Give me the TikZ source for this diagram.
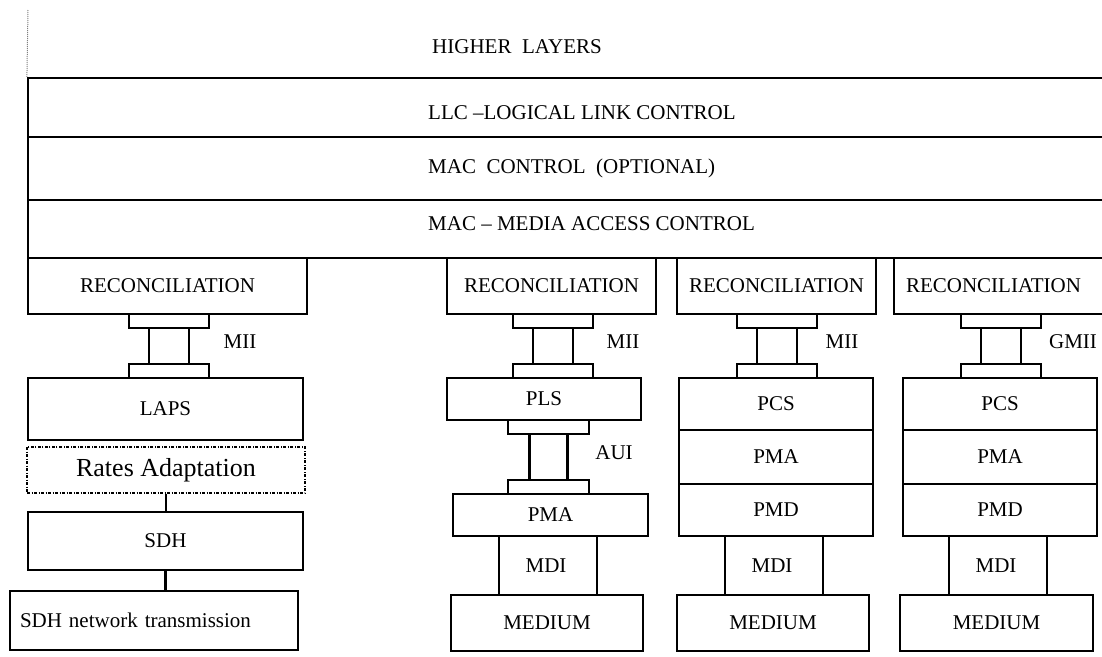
\documentclass[tikz,border=0pt]{standalone}
\usepackage{fontspec}
\setmainfont{Liberation Serif}

\begin{document}
\begin{tikzpicture}[x = 1pt, y = -1pt,
	every node/.style = {font = \fontsize{21}{25}\selectfont},
	layerbox/.style = {draw, line width = 2.2pt, inner sep = 0pt},
	plugbox/.style = {draw, line width = 2.2pt, inner sep = 0pt, minimum width = 80pt, minimum height = 14pt},
	wire/.style = {line width = 2.2pt}]

\clip (0, 0) rectangle (1102, 656);

	% Layers

	\coordinate (top) at (28, 10);
	\node [layerbox, minimum width = 1092pt, minimum height = 59pt] (llc) at (574, 107.5) {};
	\node [layerbox, minimum width = 1092pt, minimum height = 63pt] (macctl) at (574, 168.5) {};
	\node [layerbox, minimum width = 1092pt, minimum height = 58pt] (mac) at (574, 229) {};
	\draw [densely dotted, gray, line width = 1pt] (top) -- (llc.north west);

	\node [anchor = base west, inner sep = 0pt] (higher) at (432, 53) {HIGHER\ \ LAYERS};
	\node [anchor = base west, inner sep = 0pt] (llctext) at (428, 119) {LLC --LOGICAL LINK CONTROL};
	\node [anchor = base west, inner sep = 0pt] (macctltext) at (428, 173) {MAC\ \ CONTROL\ \ (OPTIONAL)};
	\node [anchor = base west, inner sep = 0pt] (mactext) at (428, 230) {MAC -- MEDIA ACCESS CONTROL};

	% Reconciliation

	\node [layerbox, minimum width = 279pt, minimum height = 56pt] (rec1) at (167.5, 286) {RECONCILIATION};
	\node [layerbox, minimum width = 209pt, minimum height = 56pt] (rec2) at (551.5, 286) {RECONCILIATION};
	\node [layerbox, minimum width = 199pt, minimum height = 56pt] (rec3) at (776.5, 286) {RECONCILIATION};
	\node [layerbox, minimum width = 226pt, minimum height = 56pt] (rec4) at (1007, 286) {};
	\node (rec4text) at (993.5, 286) {RECONCILIATION};

	% Interfaces

	\node [plugbox] (mii1top) at (169, 321) {};
	\node [plugbox] (mii1bot) at (169, 371) {};
	\draw [wire] ([xshift = -20pt] mii1top.south) -- ([xshift = -20pt] mii1bot.north);
	\draw [wire] ([xshift = 20pt] mii1top.south) -- ([xshift = 20pt] mii1bot.north);
	\node (mii1) at (240, 342) {MII};

	\node [plugbox] (mii2top) at (553, 321) {};
	\node [plugbox] (mii2bot) at (553, 371) {};
	\draw [wire] ([xshift = -20pt] mii2top.south) -- ([xshift = -20pt] mii2bot.north);
	\draw [wire] ([xshift = 20pt] mii2top.south) -- ([xshift = 20pt] mii2bot.north);
	\node (mii2) at (623, 342) {MII};

	\node [plugbox] (mii3top) at (777, 321) {};
	\node [plugbox] (mii3bot) at (777, 371) {};
	\draw [wire] ([xshift = -20pt] mii3top.south) -- ([xshift = -20pt] mii3bot.north);
	\draw [wire] ([xshift = 20pt] mii3top.south) -- ([xshift = 20pt] mii3bot.north);
	\node (mii3) at (842, 342) {MII};

	\node [plugbox] (gmiitop) at (1001, 321) {};
	\node [plugbox] (gmiibot) at (1001, 371) {};
	\draw [wire] ([xshift = -20pt] gmiitop.south) -- ([xshift = -20pt] gmiibot.north);
	\draw [wire] ([xshift = 20pt] gmiitop.south) -- ([xshift = 20pt] gmiibot.north);
	\node (gmii) at (1073, 342) {GMII};

	% SDH column

	\node [layerbox, minimum width = 275pt, minimum height = 62pt] (laps) at (165.5, 409) {LAPS};
	\node [layerbox, line width = 1.2pt, dash pattern = on 3pt off 1.5pt on 1pt off 1.5pt,
		minimum width = 278pt, minimum height = 46pt, font = \fontsize{26}{30}\selectfont] (rates) at (166, 470) {Rates Adaptation};
	\node [layerbox, minimum width = 275pt, minimum height = 58pt] (sdh) at (165.5, 541) {SDH};
	\node [layerbox, minimum width = 288pt, minimum height = 59pt, text width = 268pt, align = left] (sdhnet) at (154, 620.5) {SDH network transmission};
	\draw [wire] (rates.south) -- (rates.south |- sdh.north);
	\draw [wire] (sdh.south) -- (sdh.south |- sdhnet.north);

	% PLS column

	\node [layerbox, minimum width = 194pt, minimum height = 42pt] (pls) at (544, 399) {PLS};
	\node [plugbox, minimum width = 81pt] (auitop) at (548.5, 427) {};
	\node [plugbox, minimum width = 81pt] (auibot) at (548.5, 487) {};
	\draw [wire] ([xshift = -19pt] auitop.south) -- ([xshift = -19pt] auibot.north);
	\draw [wire] ([xshift = 19pt] auitop.south) -- ([xshift = 19pt] auibot.north);
	\node (aui) at (614, 453) {AUI};
	\node [layerbox, minimum width = 195pt, minimum height = 42pt] (pma2) at (550.5, 515) {PMA};
	\node [layerbox, minimum width = 192pt, minimum height = 56pt] (med2) at (547, 623) {MEDIUM};
	\draw [wire] ([xshift = -51.5pt] pma2.south) -- ([xshift = -51.5pt] pma2.south |- med2.north);
	\draw [wire] ([xshift = 46.5pt] pma2.south) -- ([xshift = 46.5pt] pma2.south |- med2.north);
	\node (mdi2) at (546, 566) {MDI};

	% PCS column (MII)

	\node [layerbox, minimum width = 194pt, minimum height = 52pt] (pcs3) at (776, 404) {PCS};
	\node [layerbox, minimum width = 194pt, minimum height = 54pt] (pma3) at (776, 457) {PMA};
	\node [layerbox, minimum width = 194pt, minimum height = 52pt] (pmd3) at (776, 510) {PMD};
	\node [layerbox, minimum width = 192pt, minimum height = 56pt] (med3) at (773, 623) {MEDIUM};
	\draw [wire] ([xshift = -51pt] pmd3.south) -- ([xshift = -51pt] pmd3.south |- med3.north);
	\draw [wire] ([xshift = 47pt] pmd3.south) -- ([xshift = 47pt] pmd3.south |- med3.north);
	\node (mdi3) at (772, 566) {MDI};

	% PCS column (GMII)

	\node [layerbox, minimum width = 194pt, minimum height = 52pt] (pcs4) at (1000, 404) {PCS};
	\node [layerbox, minimum width = 194pt, minimum height = 54pt] (pma4) at (1000, 457) {PMA};
	\node [layerbox, minimum width = 194pt, minimum height = 52pt] (pmd4) at (1000, 510) {PMD};
	\node [layerbox, minimum width = 193pt, minimum height = 56pt] (med4) at (996.5, 623) {MEDIUM};
	\draw [wire] ([xshift = -51pt] pmd4.south) -- ([xshift = -51pt] pmd4.south |- med4.north);
	\draw [wire] ([xshift = 47pt] pmd4.south) -- ([xshift = 47pt] pmd4.south |- med4.north);
	\node (mdi4) at (996, 566) {MDI};

\end{tikzpicture}
\end{document}
